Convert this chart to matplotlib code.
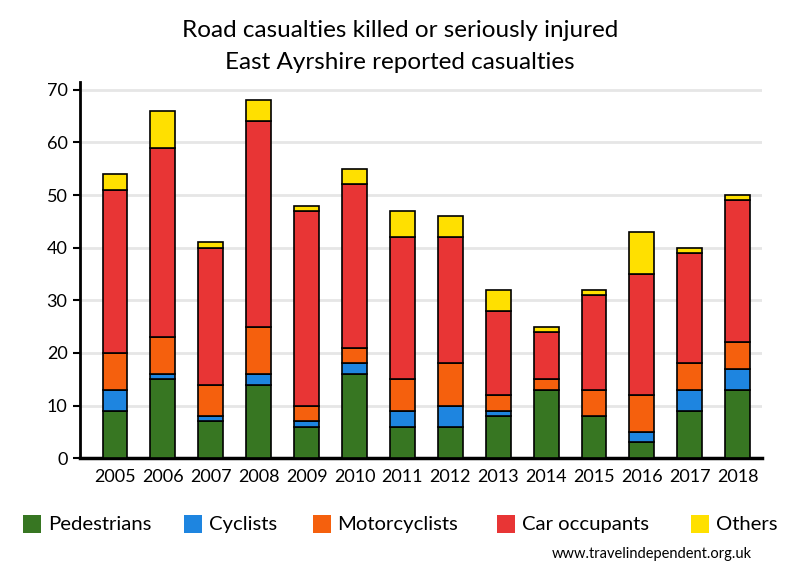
import matplotlib
matplotlib.use("Agg")
import matplotlib.pyplot as plt
import numpy as np
from matplotlib.patches import Rectangle

years = ["2005", "2006", "2007", "2008", "2009", "2010", "2011", "2012", "2013", "2014", "2015", "2016", "2017", "2018"]
pedestrians = [9, 15, 7, 14, 6, 16, 6, 6, 8, 13, 8, 3, 9, 13]
cyclists = [4, 1, 1, 2, 1, 2, 3, 4, 1, 0, 0, 2, 4, 4]
motorcyclists = [7, 7, 6, 9, 3, 3, 6, 8, 3, 2, 5, 7, 5, 5]
car_occupants = [31, 36, 26, 39, 37, 31, 27, 24, 16, 9, 18, 23, 21, 27]
others = [3, 7, 1, 4, 1, 3, 5, 4, 4, 1, 1, 8, 1, 1]

series_names = ["Pedestrians", "Cyclists", "Motorcyclists", "Car occupants", "Others"]
series = [pedestrians, cyclists, motorcyclists, car_occupants, others]
colors = ["#377622", "#1e85e0", "#f5600d", "#e83535", "#ffe000"]

plt.rcParams['font.family'] = ['Lato', 'DejaVu Sans']

fig = plt.figure(figsize=(8, 5.8), dpi=100)
ax = fig.add_axes([0.1, 0.21, 0.852, 0.648])

x = np.arange(len(years))
bottom = np.zeros(len(years))
for name, vals, c in zip(series_names, series, colors):
    vals = np.array(vals, dtype=float)
    ax.bar(x, vals, bottom=bottom, width=0.52, color=c, edgecolor="black", linewidth=1.2, zorder=3)
    bottom += vals

ax.set_xlim(-0.73, 13.5)
ax.set_ylim(0, 71.4)
ax.set_yticks(range(0, 71, 10))
ax.set_xticks(x)
ax.set_xticklabels(years)
ax.yaxis.grid(True, color="#e6e6e6", linewidth=2, zorder=0)
ax.set_axisbelow(True)
for s in ["top", "right"]:
    ax.spines[s].set_visible(False)
ax.spines["left"].set_linewidth(2)
ax.spines["bottom"].set_linewidth(2.5)
ax.tick_params(axis="both", labelsize=13, colors="black")
ax.tick_params(axis="x", length=0, pad=8)
ax.tick_params(axis="y", length=5, width=1.5, pad=4)

fig.text(0.5, 0.948, "Road casualties killed or seriously injured", ha="center", va="center", fontsize=17.5)
fig.text(0.5, 0.893, "East Ayrshire reported casualties", ha="center", va="center", fontsize=17.5)

# legend
leg_x = [0.029, 0.230, 0.391, 0.621, 0.864]
for name, c, lx in zip(series_names, colors, leg_x):
    fig.patches.append(Rectangle((lx, 0.081), 0.0225, 0.031, transform=fig.transFigure,
                                 facecolor=c, edgecolor="none"))
    fig.text(lx + 0.031, 0.095, name, ha="left", va="center", fontsize=14.6)

fig.text(0.94, 0.045, "www.travelindependent.org.uk", ha="right", va="center", fontsize=10.5)

fig.savefig("out.png", dpi=100)
